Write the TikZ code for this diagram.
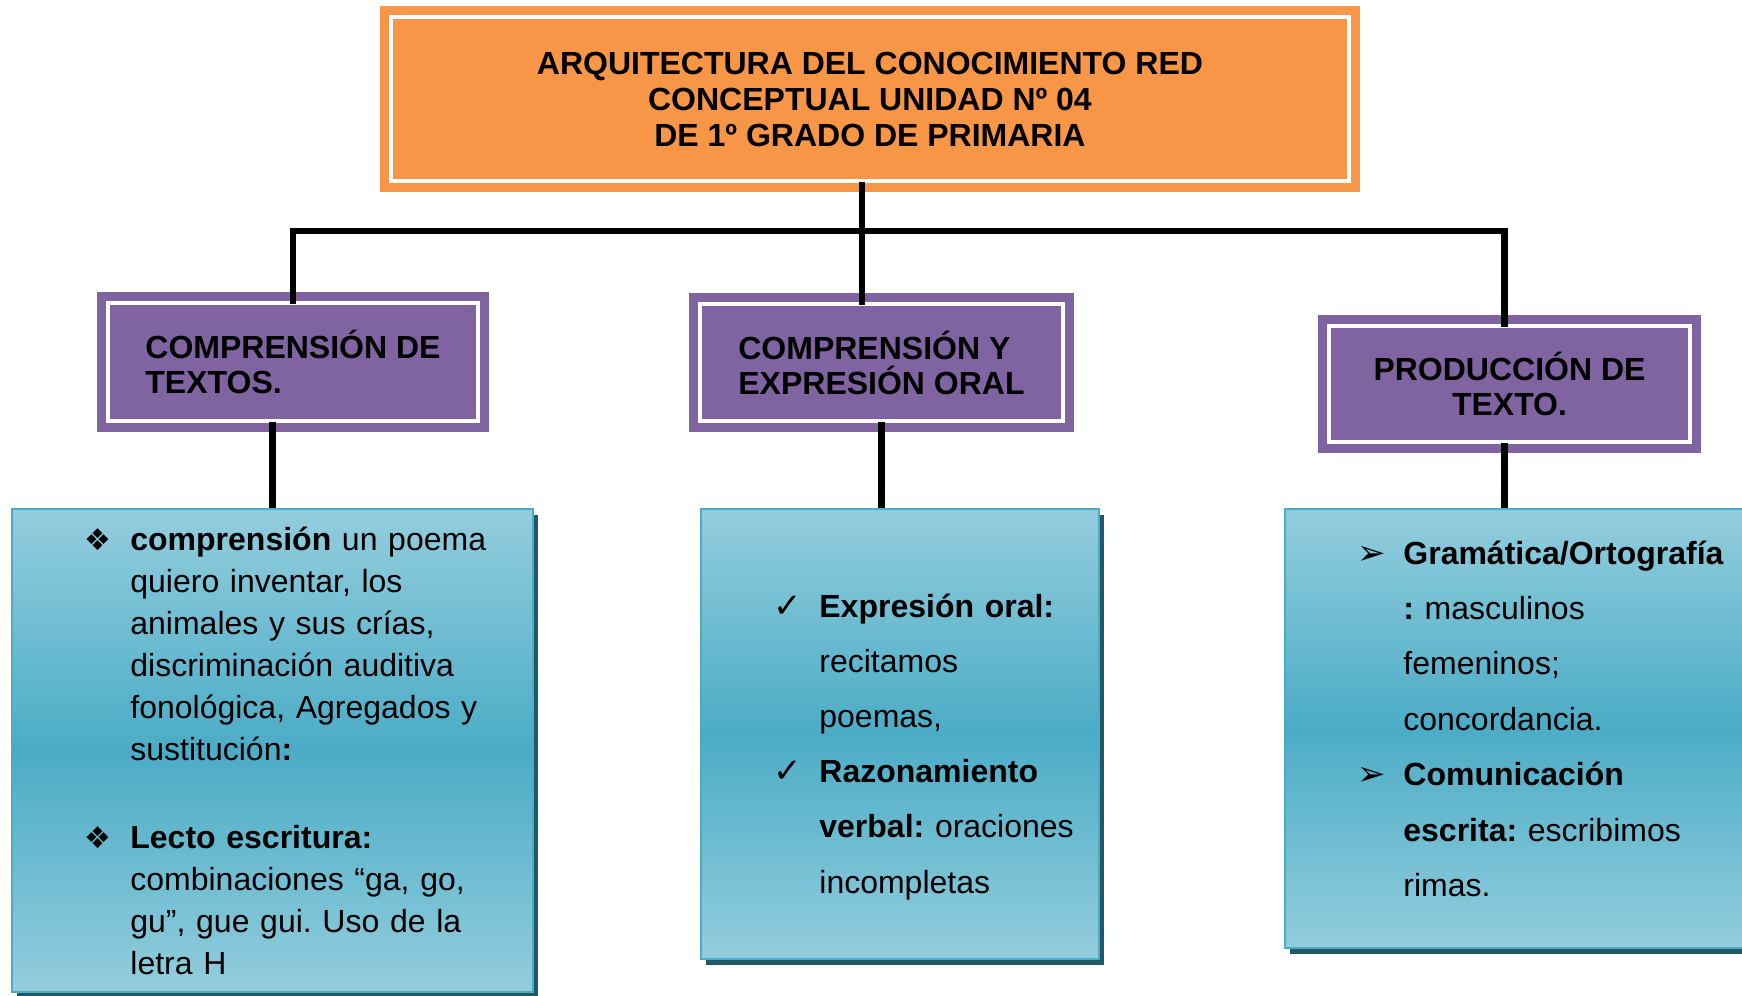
\documentclass[tikz,border=0pt]{standalone}
\usepackage{fontspec}
\setmainfont{Liberation Sans}
\newfontfamily\symfont{DejaVu Sans}
\usetikzlibrary{shadows,positioning}

\definecolor{headorange}{HTML}{F79646}
\definecolor{headpurple}{HTML}{8064A2}
\definecolor{tealmid}{HTML}{4BACC6}
\definecolor{teallight}{HTML}{93CDDD}
\definecolor{tealshadow}{HTML}{215968}

\newcommand{\itm}[2][15]{\makebox[23pt][l]{\symfont\fontsize{#1}{#1}\selectfont #2}}
\newcommand{\ind}{\hspace*{23pt}}
\frenchspacing

\begin{document}
\begin{tikzpicture}[x=0.5pt, y=-0.5pt,
    framed/.style={rectangle, inner sep=0pt,
      path picture={\draw[white, line width=1.8pt]
        ([shift={(5.5pt,-5.5pt)}]path picture bounding box.north west) rectangle
        ([shift={(-5.5pt,5.5pt)}]path picture bounding box.south east);}},
    titlebox/.style={framed, fill=headorange, minimum width=490pt, minimum height=93pt,
      align=center, font=\bfseries\fontsize{16}{18}\selectfont},
    headbox/.style={framed, fill=headpurple, font=\bfseries\fontsize{16}{17.5}\selectfont},
    bodybox/.style={rectangle, draw=tealmid, line width=1pt,
      top color=teallight, bottom color=teallight, middle color=tealmid,
      drop shadow={shadow xshift=2.5pt, shadow yshift=-3pt, fill=tealshadow, opacity=1}},
    listtext/.style={anchor=base west, inner sep=0pt, align=left, text width=235pt},
    link/.style={line width=3.2pt}]
    \path[use as bounding box, clip] (0,0) rectangle (1742,996);

    % title and the three heads
    \node (title) [titlebox] at (870,99) {ARQUITECTURA DEL CONOCIMIENTO RED\\CONCEPTUAL UNIDAD Nº 04\\DE 1º GRADO DE PRIMARIA};
    \node (lefthead) [headbox, minimum width=196pt, minimum height=70pt, align=left] at (293,362) {COMPRENSIÓN DE\\TEXTOS.};
    \node (midhead) [headbox, minimum width=192.5pt, minimum height=69.5pt, align=left] at (881.5,362.5) {COMPRENSIÓN Y\\EXPRESIÓN ORAL};
    \node (righthead) [headbox, minimum width=191.5pt, minimum height=69pt, align=center] at (1509.5,384) {PRODUCCIÓN DE\\TEXTO.};

    % content boxes
    \node (leftbody) [bodybox, minimum width=260.5pt, minimum height=241.5pt] at (272.5,750.5) {};
    \node (midbody) [bodybox, minimum width=199pt, minimum height=225pt] at (900,734) {};
    \node (rightbody) [bodybox, minimum width=247.5pt, minimum height=219.5pt] at (1532.5,728.5) {};

    \node (leftlist) [listtext, font=\fontsize{16}{21}\selectfont] at (84,550) {%
      \itm{❖}\textbf{comprensión} un poema\\
      \ind quiero inventar, los\\
      \ind animales y sus crías,\\
      \ind discriminación auditiva\\
      \ind fonológica, Agregados y\\
      \ind sustitución\textbf{:}\\[23pt]
      \itm{❖}\textbf{Lecto escritura:}\\
      \ind combinaciones “ga, go,\\
      \ind gu”, gue gui. Uso de la\\
      \ind letra H};
    \node (midlist) [listtext, font=\fontsize{16}{27.6}\selectfont] at (773,617) {%
      \itm[17]{✓}\textbf{Expresión oral:}\\
      \ind recitamos\\
      \ind poemas,\\
      \itm[17]{✓}\textbf{Razonamiento}\\
      \ind \textbf{verbal:} oraciones\\
      \ind incompletas};
    \node (rightlist) [listtext, font=\fontsize{16}{27.7}\selectfont] at (1357,564) {%
      \itm[17]{➢}\textbf{Gramática/Ortografía}\\
      \ind \textbf{:} masculinos\\
      \ind femeninos;\\
      \ind concordancia.\\
      \itm[17]{➢}\textbf{Comunicación}\\
      \ind \textbf{escrita:} escribimos\\
      \ind rimas.};

    % connectors
    \coordinate (hub) at (862,231);
    \draw[link] ([yshift=5pt]title.south -| hub) -- ([yshift=-6pt]midhead.north -| hub);
    \draw[link] ([yshift=-6pt]lefthead.north) |- (hub) -| ([xshift=-2.5pt,yshift=-6pt]righthead.north);
    \draw[link] ([yshift=5pt]lefthead.south -| leftbody.north) -- (leftbody.north);
    \draw[link] ([yshift=5pt]midhead.south) -- (midhead.south |- midbody.north);
    \draw[link] ([xshift=-2.5pt,yshift=5pt]righthead.south) -- ([xshift=-2.5pt]righthead.south |- rightbody.north);
\end{tikzpicture}
\end{document}
